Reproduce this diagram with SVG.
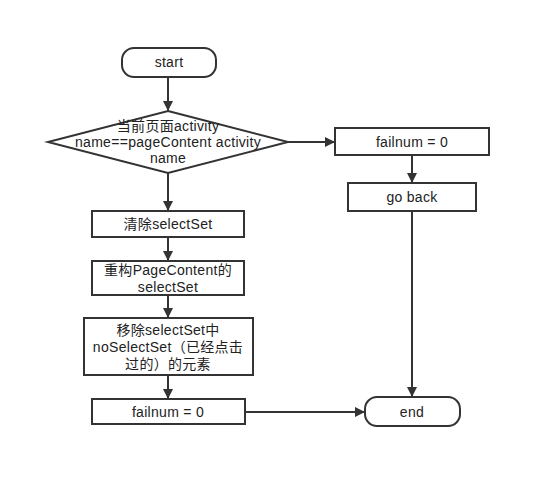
<svg xmlns="http://www.w3.org/2000/svg" width="551" height="488" viewBox="0 0 551 488">
<defs>
<style>
.n{fill:#fff;stroke:#333;stroke-width:2}
.c{fill:none;stroke:#333;stroke-width:2}
text{font-family:"Liberation Sans","Noto Sans CJK SC",sans-serif;font-size:14px;letter-spacing:0.3px;fill:#222;text-anchor:middle}
</style>
<marker id="a" markerWidth="10" markerHeight="10" refX="9" refY="5" orient="auto" markerUnits="userSpaceOnUse">
<path d="M0,0 L10,5 L0,10 Z" fill="#333"/>
</marker>
</defs>
<rect width="551" height="488" fill="#fff"/>
<g id="connectors">
<path class="c" d="M168,77 V110" marker-end="url(#a)"/>
<path class="c" d="M168,173 V210" marker-end="url(#a)"/>
<path class="c" d="M168,237 V260" marker-end="url(#a)"/>
<path class="c" d="M168,295 V317" marker-end="url(#a)"/>
<path class="c" d="M168,375 V398" marker-end="url(#a)"/>
<path class="c" d="M288,142 H334" marker-end="url(#a)"/>
<path class="c" d="M412,155 V182" marker-end="url(#a)"/>
<path class="c" d="M412,211 V396" marker-end="url(#a)"/>
<path class="c" d="M245,412 H364" marker-end="url(#a)"/>
</g>
<g id="start">
<rect class="n" x="122" y="48" width="94" height="29" rx="12"/>
<text x="169" y="67">start</text>
</g>
<g id="decision">
<polygon class="n" points="168,111 288,142 168,173 48,142"/>
<text x="168" y="131">当前页面activity</text>
<text x="168" y="147">name==pageContent activity</text>
<text x="168" y="163">name</text>
</g>
<g id="failnum-right">
<rect class="n" x="335" y="128" width="154" height="27"/>
<text x="412" y="146.5">failnum = 0</text>
</g>
<g id="goback">
<rect class="n" x="348" y="183" width="128" height="28"/>
<text x="412" y="202">go back</text>
</g>
<g id="clear">
<rect class="n" x="92" y="211" width="152" height="26"/>
<text x="168" y="229">清除selectSet</text>
</g>
<g id="rebuild">
<rect class="n" x="92" y="261" width="152" height="34"/>
<text x="168" y="275">重构PageContent的</text>
<text x="168" y="291.5">selectSet</text>
</g>
<g id="remove">
<rect class="n" x="84" y="318" width="169" height="57"/>
<text x="168" y="335">移除selectSet中</text>
<text x="168" y="352">noSelectSet（已经点击</text>
<text x="168" y="369">过的）的元素</text>
</g>
<g id="failnum-left">
<rect class="n" x="92" y="399" width="153" height="25"/>
<text x="168" y="416.5">failnum = 0</text>
</g>
<g id="end">
<rect class="n" x="365" y="397" width="95" height="29" rx="12"/>
<text x="412" y="416.5">end</text>
</g>
</svg>
